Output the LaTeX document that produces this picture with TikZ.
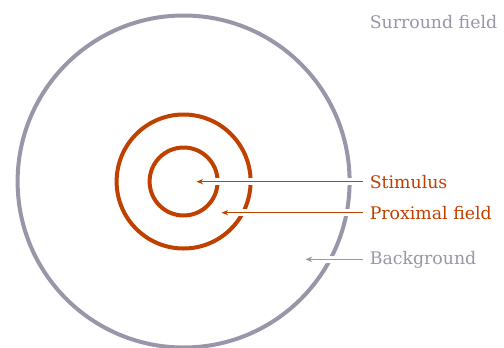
\documentclass[tikz,border=0pt]{standalone}
\usepackage{fontspec}
\setmainfont{DejaVu Serif}
\usetikzlibrary{arrows.meta}
\definecolor{rust}{HTML}{C04000}
\definecolor{slate}{HTML}{9896A8}
\tikzset{
  ring/.style={line width=3pt},
  pointer/.style={line width=0.8pt, -{Stealth[length=5pt,width=4pt]},
    preaction={draw=white, line width=5pt, -}},
  lab/.style={anchor=west, inner sep=0pt, font=\fontsize{13}{15}\selectfont}
}
\begin{document}
\begin{tikzpicture}[x=0.75pt,y=-0.75pt]
\useasboundingbox (0,0) rectangle (504,347);
\coordinate (c) at (183.6,181.5);
\draw[ring, slate] (c) circle[radius=166];
\draw[ring, rust] (c) circle[radius=67];
\draw[ring, rust] (c) circle[radius=34];
\node[lab, text=slate] (surround) at (369.5,22) {Surround field};
\node[lab, text=rust] (stim) at (369.5,182) {Stimulus};
\node[lab, text=rust] (prox) at (369.5,213) {Proximal field};
\node[lab, text=slate] (bg) at (369.5,259.5) {Background};
\coordinate (stimtip) at (196.5,181.7);
\coordinate (proxtip) at (221.5,212.7);
\coordinate (bgtip) at (305.5,259.3);
\draw[pointer, rust] ([xshift=-5pt]stim.west |- stimtip) -- (stimtip);
\draw[pointer, rust] ([xshift=-5pt]prox.west |- proxtip) -- (proxtip);
\draw[pointer, slate] ([xshift=-5pt]bg.west |- bgtip) -- (bgtip);
\end{tikzpicture}
\end{document}
